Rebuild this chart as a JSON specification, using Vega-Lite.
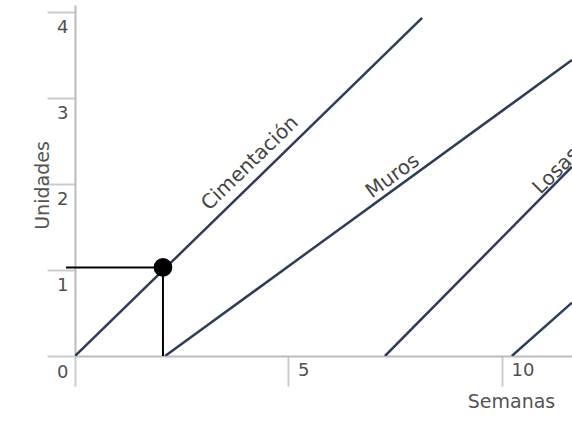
{
  "$schema": "https://vega.github.io/schema/vega-lite/v6.json",
  "width": 497,
  "height": 351,
  "autosize": "none",
  "padding": {"left": 75, "top": 5, "right": 0, "bottom": 72},
  "background": "white",
  "config": {"view": {"stroke": null}, "font": "DejaVu Sans"},
  "datasets": {
    "lines": [
      {"serie": "Cimentación", "x": 0, "y": 0},
      {"serie": "Cimentación", "x": 8.13, "y": 3.93},
      {"serie": "Muros", "x": 2.11, "y": 0},
      {"serie": "Muros", "x": 11.64, "y": 3.44},
      {"serie": "Losas", "x": 7.26, "y": 0},
      {"serie": "Losas", "x": 11.64, "y": 2.2},
      {"serie": "Otro", "x": 10.23, "y": 0},
      {"serie": "Otro", "x": 11.64, "y": 0.62}
    ],
    "rules": [
      {"x": -0.21, "y": 1.03, "x2": 2.06, "y2": 1.03},
      {"x": 2.06, "y": 0, "x2": 2.06, "y2": 1.03}
    ],
    "point": [{"x": 2.06, "y": 1.03}],
    "labels": [
      {"label": "Cimentación", "x": 4.1, "y": 2.24},
      {"label": "Muros", "x": 7.44, "y": 2.09},
      {"label": "Losas", "x": 11.27, "y": 2.15}
    ]
  },
  "encoding": {
    "x": {
      "field": "x", "type": "quantitative",
      "scale": {"domain": [0, 11.64], "nice": false, "zero": false},
      "axis": {
        "title": "Semanas", "values": [0, 5, 10], "grid": false,
        "tickSize": 30, "tickColor": "#cccccc", "tickWidth": 2,
        "domainColor": "#bbbbbb", "domainWidth": 2,
        "labelAlign": "left", "labelBaseline": "top", "labelOffset": 9, "labelPadding": -25,
        "labelExpr": "datum.value == 0 ? '' : datum.label",
        "labelFontSize": 18, "labelColor": "#505050",
        "titleFontSize": 19, "titleColor": "#555555", "titleFontWeight": "normal",
        "titleX": 436, "titleY": 45, "titleAlign": "center", "titleBaseline": "middle"
      }
    },
    "y": {
      "field": "y", "type": "quantitative",
      "scale": {"domain": [0, 4.08], "nice": false},
      "axis": {
        "title": "Unidades", "values": [0, 1, 2, 3, 4], "grid": false,
        "tickSize": 28, "tickColor": "#cccccc", "tickWidth": 2,
        "domainColor": "#bbbbbb", "domainWidth": 2,
        "labelAlign": "right", "labelBaseline": "middle", "labelOffset": 16, "labelPadding": -21,
        "labelFontSize": 18, "labelColor": "#505050",
        "titleFontSize": 19, "titleColor": "#555555", "titleFontWeight": "normal",
        "titleX": -33, "titleY": 180, "titleAlign": "center", "titleBaseline": "middle", "titleAngle": -90
      }
    }
  },
  "layer": [
    {
      "data": {"name": "lines"},
      "mark": {"type": "line", "color": "#2f3d58", "strokeWidth": 2.5, "clip": true},
      "encoding": {"detail": {"field": "serie"}}
    },
    {
      "data": {"name": "rules"},
      "mark": {"type": "rule", "color": "black", "strokeWidth": 2},
      "encoding": {"x2": {"field": "x2"}, "y2": {"field": "y2"}}
    },
    {
      "data": {"name": "point"},
      "mark": {"type": "point", "filled": true, "color": "black", "size": 350, "opacity": 1}
    },
    {
      "data": {"name": "labels"},
      "transform": [{"filter": "datum.label == 'Cimentación'"}],
      "mark": {"type": "text", "angle": -44, "fontSize": 20, "color": "#454545", "align": "center", "baseline": "middle"},
      "encoding": {"text": {"field": "label"}}
    },
    {
      "data": {"name": "labels"},
      "transform": [{"filter": "datum.label == 'Muros'"}],
      "mark": {"type": "text", "angle": -36, "fontSize": 20, "color": "#454545", "align": "center", "baseline": "middle"},
      "encoding": {"text": {"field": "label"}}
    },
    {
      "data": {"name": "labels"},
      "transform": [{"filter": "datum.label == 'Losas'"}],
      "mark": {"type": "text", "angle": -45, "fontSize": 20, "color": "#454545", "align": "center", "baseline": "middle", "clip": true},
      "encoding": {"text": {"field": "label"}}
    }
  ]
}
